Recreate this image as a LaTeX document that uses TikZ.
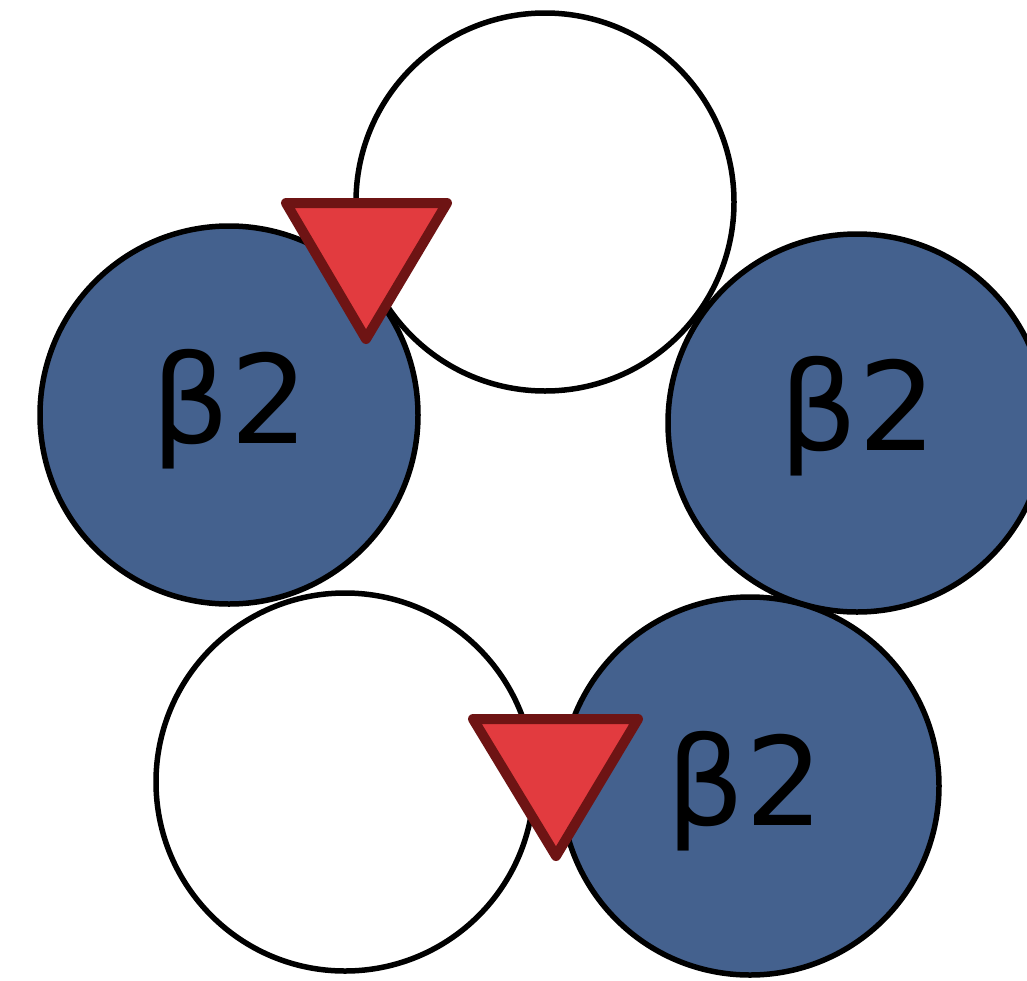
\documentclass[tikz,border=0pt]{standalone}
\usepackage{fontspec}
\setmainfont{DejaVu Sans}
\definecolor{subunitblue}{HTML}{44618E}
\definecolor{siteRed}{HTML}{E23B3F}
\definecolor{siteEdge}{HTML}{6E1414}
\begin{document}
\begin{tikzpicture}[x=1pt,y=-1pt,
  subunit/.style={circle, draw=black, line width=5.5pt, minimum size=378pt, inner sep=0pt, outer sep=0pt},
  empty/.style={subunit, fill=white},
  beta/.style={subunit, fill=subunitblue},
  betalabel/.style={anchor=base, inner sep=0pt, font=\fontsize{123}{140}\selectfont},
  site/.style={fill=siteRed, draw=siteEdge, line width=10pt, line join=round}]
  \useasboundingbox (0,0) rectangle (1027,980);
  \clip (0,0) rectangle (1027,980);
  % unlabelled subunits
  \node[empty] (top) at (545,202) {};
  \node[empty] (botleft) at (345,782) {};
  % beta2 subunits
  \node[beta] (left) at (229,415) {};
  \node[beta] (right) at (857,423) {};
  \node[beta] (botright) at (750,786) {};
  \node[betalabel] (leftlbl) at (230,443) {β2};
  \node[betalabel] (rightlbl) at (858,450) {β2};
  \node[betalabel] (botrightlbl) at (745,825) {β2};
  % binding sites at the interfaces
  \draw[site] (286,203) -- (447,203) -- (366,339) -- cycle;
  \draw[site] (473,719) -- (638,719) -- (556,856) -- cycle;
\end{tikzpicture}
\end{document}
